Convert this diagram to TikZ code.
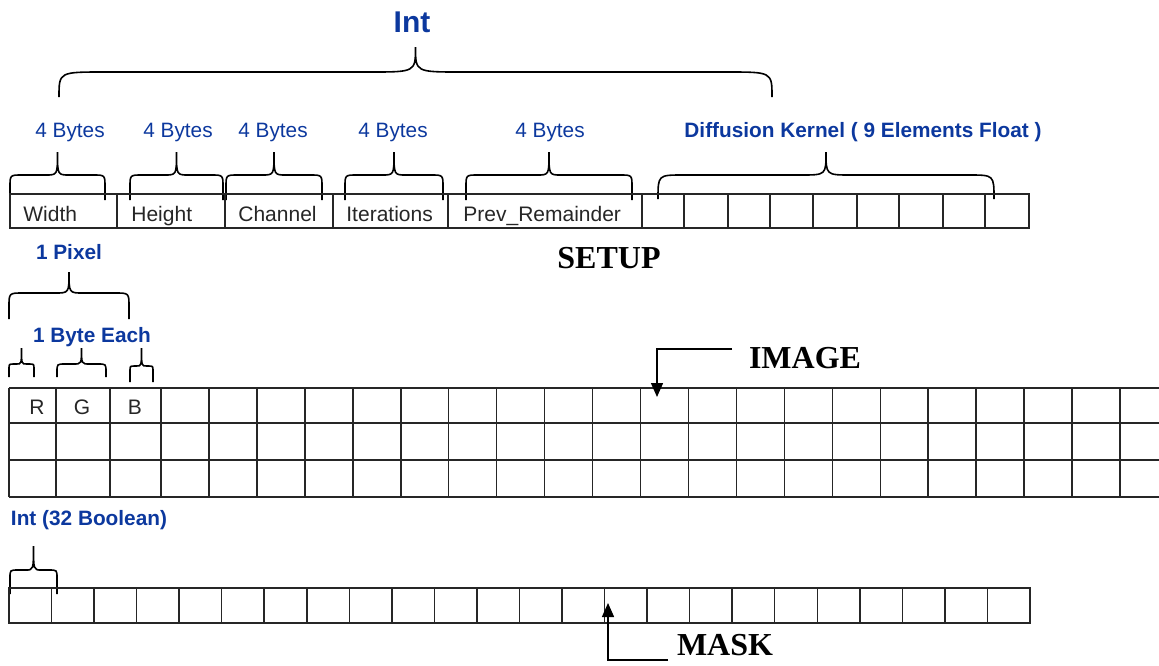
\documentclass[tikz,border=0pt]{standalone}
\usepackage{fontspec}
\setmainfont{Liberation Serif}
\setsansfont{Liberation Sans}
\usetikzlibrary{arrows.meta,positioning,calc}
\definecolor{memblue}{RGB}{12,56,158}

% curly brace: x1, x2, y bottom, y flat, y tip, radius
\newcommand{\membrace}[6]{%
  \draw[brc] (#1,#3) -- (#1,{#4+min(#6,#3-#4)}) .. controls (#1,#4) .. ({#1+#6},#4)
    -- ({(#1+#2)/2-#6},#4) .. controls ({(#1+#2)/2},#4) .. ({(#1+#2)/2},#5)
    .. controls ({(#1+#2)/2},#4) .. ({(#1+#2)/2+#6},#4)
    -- ({#2-#6},#4) .. controls (#2,#4) .. (#2,{#4+min(#6,#3-#4)}) -- (#2,#3);}

\begin{document}
\begin{tikzpicture}[
    x=0.5pt, y=-0.5pt,
    lbl/.style={font=\fontsize{10.4}{12}\selectfont\sffamily, text=memblue, inner sep=0pt},
    blbl/.style={font=\fontsize{10.4}{12}\selectfont\sffamily\bfseries, text=memblue, inner sep=0pt},
    fld/.style={font=\fontsize{10.5}{12}\selectfont\sffamily, text=black!85, inner sep=0pt},
    ttl/.style={font=\fontsize{16}{18}\selectfont\rmfamily\bfseries, inner sep=0pt},
    brc/.style={line width=0.8pt, black},
    grd/.style={line width=0.75pt, black!85},
    arr/.style={-{Triangle[length=7pt,width=6pt]}, line width=0.7pt, black},
]
\useasboundingbox (0,0) rectangle (1159,665);

% Setup block
\node[font=\fontsize{15}{18}\selectfont\sffamily\bfseries, text=memblue, inner sep=0pt] (intlbl) at (412,22) {Int};
\membrace{59}{772}{97}{72}{47}{45}
\node[lbl] (wbytes) at (70,132) {4 Bytes};
\node[lbl] (hbytes) at (178,132) {4 Bytes};
\node[lbl] (cbytes) at (273,132) {4 Bytes};
\node[lbl] (ibytes) at (393,132) {4 Bytes};
\node[lbl] (pbytes) at (550,132) {4 Bytes};
\node[blbl] (kernlbl) at (863,132) {Diffusion Kernel ( 9 Elements Float )};
\membrace{10}{105}{200}{175}{152}{12}
\membrace{130}{223}{200}{175}{152}{12}
\membrace{226}{322}{200}{175}{152}{12}
\membrace{345}{443}{200}{175}{152}{12}
\membrace{466}{632}{200}{175}{152}{12}
\membrace{658}{994}{199}{175}{152}{25}
\draw[grd] (10,194) rectangle (1029,228);
\foreach \x in {117,225,333,448,642,684,728,770,813,857,899,943,985}
    \draw[grd] (\x,194) -- (\x,228);
\node[fld, anchor=base west] (width) at (23,221) {Width};
\node[fld, anchor=base west] (height) at (131,221) {Height};
\node[fld, anchor=base west] (channel) at (238,221) {Channel};
\node[fld, anchor=base west] (iter) at (346,221) {Iterations};
\node[fld, anchor=base west] (prevrem) at (463,221) {Prev\_Remainder};
\node[ttl] (setuplbl) at (609,258) {SETUP};

% Image block
\node[blbl] (pixlbl) at (69,252) {1 Pixel};
\membrace{9}{129}{319}{293}{272}{14}
\node[blbl] (bytelbl) at (92,337) {1 Byte Each};
\membrace{9}{34}{377}{364}{348}{5}
\membrace{57}{106}{377}{364}{348}{8}
\membrace{130}{153}{382}{366}{348}{5}
\foreach \y in {388,423,460,497}
    \draw[grd] (9,\y) -- (1159,\y);
\foreach \x in {9,56,110}
    \draw[grd] (\x,388) -- (\x,497);
\foreach \k in {0,...,20}
    \draw[grd] ({161+47.95*\k},388) -- ({161+47.95*\k},497);
\node[fld, anchor=base] (rch) at (37,414) {R};
\node[fld, anchor=base] (gch) at (82,414) {G};
\node[fld, anchor=base] (bch) at (135,414) {B};
\node[ttl] (imagelbl) at (805,358) {IMAGE};
\coordinate (imgfrom) at (732,349);
\coordinate (imgto) at (657,397);
\draw[arr] (imgfrom) -| (imgto);

% Mask block
\node[blbl] (boollbl) at (89,520) {Int (32 Boolean)};
\membrace{10}{57}{594}{570}{546}{8}
\draw[grd] (9,588) rectangle (1030,623);
\foreach \k in {1,...,23}
    \draw[grd] ({9+42.54*\k},588) -- ({9+42.54*\k},623);
\node[ttl] (masklbl) at (725,645) {MASK};
\coordinate (maskfrom) at (668,660);
\coordinate (maskto) at (608,603);
\draw[arr] (maskfrom) -| (maskto);
\end{tikzpicture}
\end{document}
